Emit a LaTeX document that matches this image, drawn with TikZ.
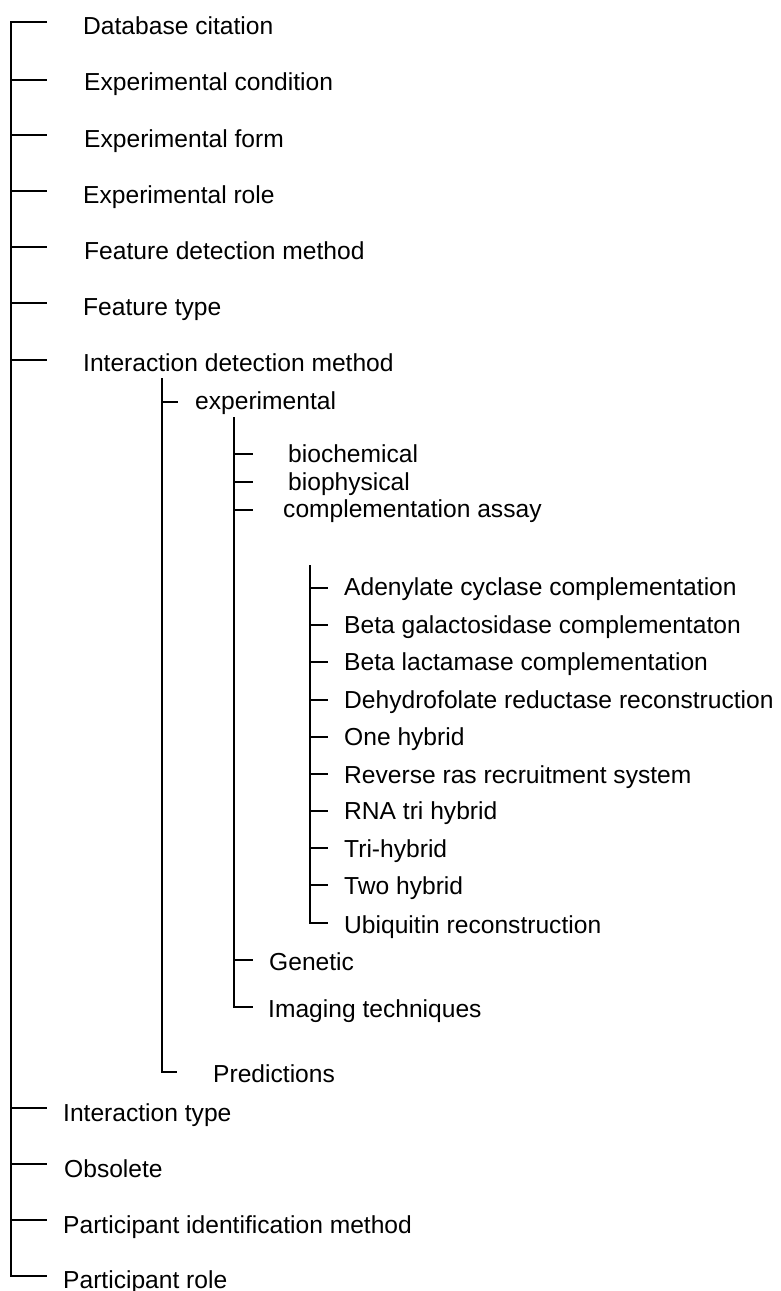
\documentclass[tikz,border=0pt]{standalone}
\usepackage{fontspec}
\setmainfont{Liberation Sans}

\begin{document}
\begin{tikzpicture}[x=1pt,y=-1pt,
	lbl/.style={anchor=base west,inner sep=0pt,font=\fontsize{24.6}{30}\selectfont},
	br/.style={black,line width=1.2pt}]
	% \draw[help lines] (0,0) grid (781,1291);
	\useasboundingbox (0,0) rectangle (781,1291);

	% top level
	\coordinate (dbc-a) at (11,22);   \coordinate (dbc-b) at (47,22);
	\node[lbl] (dbc) at (83,34) {Database citation};
	\coordinate (ecn-a) at (11,80);   \coordinate (ecn-b) at (47,80);
	\node[lbl] (ecn) at (84,90) {Experimental condition};
	\coordinate (efm-a) at (11,135);  \coordinate (efm-b) at (47,135);
	\node[lbl] (efm) at (84,147) {Experimental form};
	\coordinate (erl-a) at (11,191);  \coordinate (erl-b) at (47,191);
	\node[lbl] (erl) at (83,203) {Experimental role};
	\coordinate (fdm-a) at (11,247);  \coordinate (fdm-b) at (47,247);
	\node[lbl] (fdm) at (84,259) {Feature detection method};
	\coordinate (fty-a) at (11,303);  \coordinate (fty-b) at (47,303);
	\node[lbl] (fty) at (83,315) {Feature type};
	\coordinate (idm-a) at (11,360);  \coordinate (idm-b) at (47,360);
	\node[lbl] (idm) at (83,371) {Interaction detection method};
	\coordinate (ity-a) at (11,1108); \coordinate (ity-b) at (47,1108);
	\node[lbl] (ity) at (63,1121) {Interaction type};
	\coordinate (obs-a) at (11,1164); \coordinate (obs-b) at (47,1164);
	\node[lbl] (obs) at (64,1177) {Obsolete};
	\coordinate (pim-a) at (11,1220); \coordinate (pim-b) at (47,1220);
	\node[lbl] (pim) at (63,1233) {Participant identification method};
	\coordinate (prl-a) at (11,1276); \coordinate (prl-b) at (47,1276);
	\node[lbl] (prl) at (63,1288) {Participant role};

	% second level
	\coordinate (idm-s) at (162,378);
	\coordinate (exp-a) at (162,402); \coordinate (exp-b) at (178,402);
	\node[lbl] (exp) at (195,409) {experimental};
	\coordinate (prd-a) at (162,1072); \coordinate (prd-b) at (177,1072);
	\node[lbl] (prd) at (213,1082) {Predictions};

	% third level
	\coordinate (exp-s) at (234,417);
	\coordinate (bch-a) at (234,454);  \coordinate (bch-b) at (253,454);
	\node[lbl] (bch) at (288,462) {biochemical};
	\coordinate (bph-a) at (234,482);  \coordinate (bph-b) at (253,482);
	\node[lbl] (bph) at (288,490) {biophysical};
	\coordinate (cas-a) at (234,510);  \coordinate (cas-b) at (253,510);
	\node[lbl] (cas) at (283,517) {complementation assay};
	\coordinate (gen-a) at (234,960);  \coordinate (gen-b) at (253,960);
	\node[lbl] (gen) at (269,970) {Genetic};
	\coordinate (imt-a) at (234,1007); \coordinate (imt-b) at (253,1007);
	\node[lbl] (imt) at (268,1017) {Imaging techniques};

	% fourth level
	\coordinate (cas-s) at (310,565);
	\coordinate (acc-a) at (310,588); \coordinate (acc-b) at (328,588);
	\node[lbl] (acc) at (344,595) {Adenylate cyclase complementation};
	\coordinate (bgc-a) at (310,625); \coordinate (bgc-b) at (328,625);
	\node[lbl] (bgc) at (344,633) {Beta galactosidase complementaton};
	\coordinate (blc-a) at (310,662); \coordinate (blc-b) at (328,662);
	\node[lbl] (blc) at (344,670) {Beta lactamase complementation};
	\coordinate (drr-a) at (310,700); \coordinate (drr-b) at (328,700);
	\node[lbl] (drr) at (344,708) {Dehydrofolate reductase reconstruction};
	\coordinate (ohy-a) at (310,737); \coordinate (ohy-b) at (328,737);
	\node[lbl] (ohy) at (344,745) {One hybrid};
	\coordinate (rrs-a) at (310,774); \coordinate (rrs-b) at (328,774);
	\node[lbl] (rrs) at (344,783) {Reverse ras recruitment system};
	\coordinate (rth-a) at (310,811); \coordinate (rth-b) at (328,811);
	\node[lbl] (rth) at (344,819) {RNA tri hybrid};
	\coordinate (thy-a) at (310,848); \coordinate (thy-b) at (328,848);
	\node[lbl] (thy) at (344,857) {Tri-hybrid};
	\coordinate (twh-a) at (310,885); \coordinate (twh-b) at (328,885);
	\node[lbl] (twh) at (344,894) {Two hybrid};
	\coordinate (ubq-a) at (310,923); \coordinate (ubq-b) at (328,923);
	\node[lbl] (ubq) at (344,933) {Ubiquitin reconstruction};

	% trunks
	\draw[br] (dbc-b) -- (dbc-a) -- (prl-a) -- (prl-b);
	\draw[br] (idm-s) -- (prd-a) -- (prd-b);
	\draw[br] (exp-s) -- (imt-a) -- (imt-b);
	\draw[br] (cas-s) -- (ubq-a) -- (ubq-b);

	% ticks
	\draw[br] (ecn-a) -- (ecn-b);
	\draw[br] (efm-a) -- (efm-b);
	\draw[br] (erl-a) -- (erl-b);
	\draw[br] (fdm-a) -- (fdm-b);
	\draw[br] (fty-a) -- (fty-b);
	\draw[br] (idm-a) -- (idm-b);
	\draw[br] (ity-a) -- (ity-b);
	\draw[br] (obs-a) -- (obs-b);
	\draw[br] (pim-a) -- (pim-b);
	\draw[br] (exp-a) -- (exp-b);
	\draw[br] (bch-a) -- (bch-b);
	\draw[br] (bph-a) -- (bph-b);
	\draw[br] (cas-a) -- (cas-b);
	\draw[br] (gen-a) -- (gen-b);
	\draw[br] (acc-a) -- (acc-b);
	\draw[br] (bgc-a) -- (bgc-b);
	\draw[br] (blc-a) -- (blc-b);
	\draw[br] (drr-a) -- (drr-b);
	\draw[br] (ohy-a) -- (ohy-b);
	\draw[br] (rrs-a) -- (rrs-b);
	\draw[br] (rth-a) -- (rth-b);
	\draw[br] (thy-a) -- (thy-b);
	\draw[br] (twh-a) -- (twh-b);
\end{tikzpicture}
\end{document}
